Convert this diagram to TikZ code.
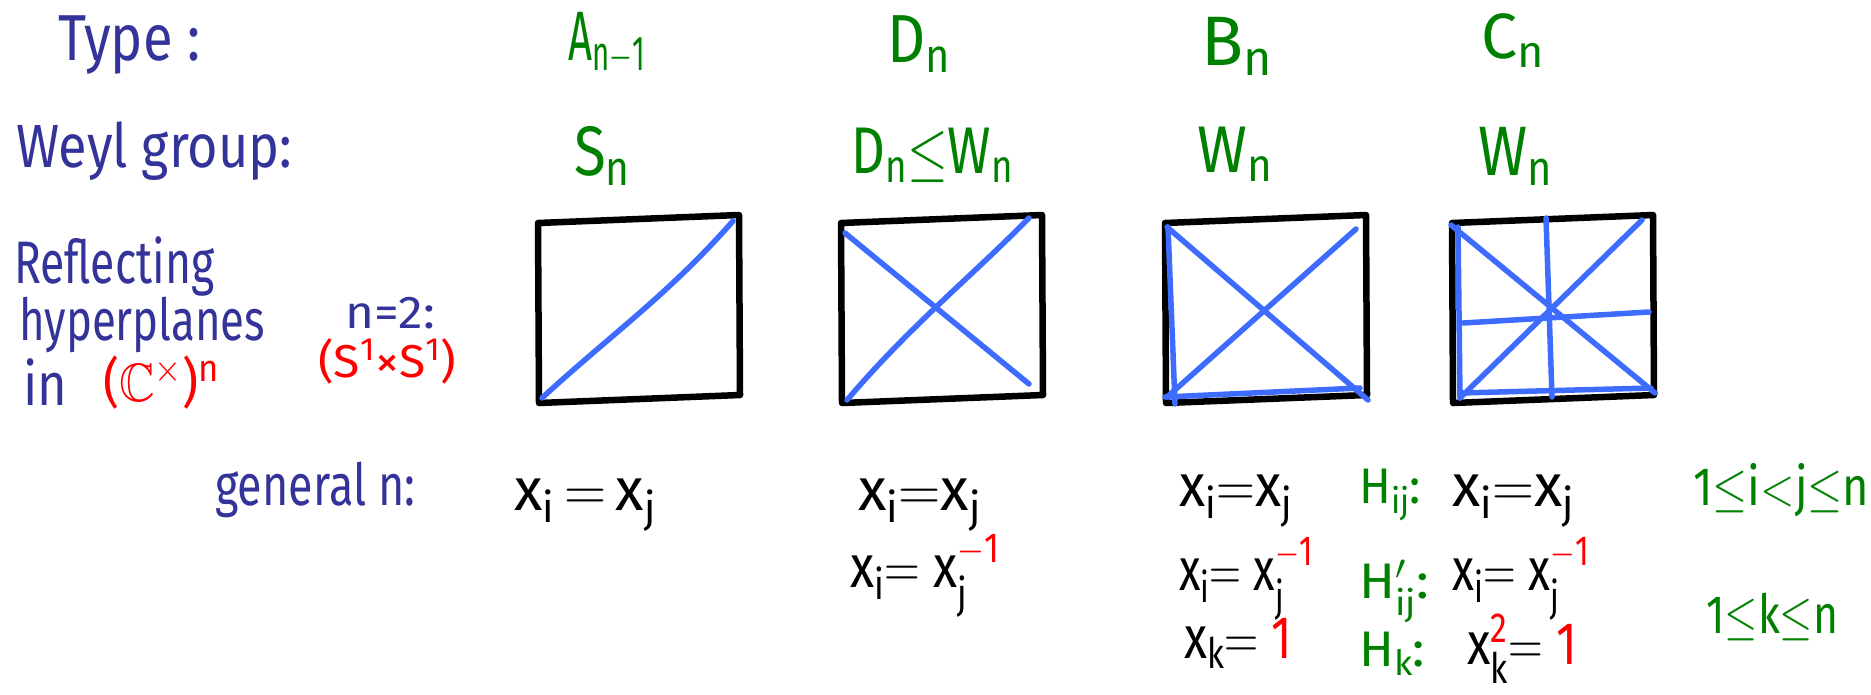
\RequirePackage{fix-cm}
\documentclass[tikz,border=0pt]{standalone}
\usepackage{amssymb}
\usepackage{fontspec}
\setmainfont{Fira Sans}
\definecolor{ink}{RGB}{51,51,153}
\definecolor{grn}{RGB}{0,128,0}
\definecolor{rd}{RGB}{255,0,0}
\definecolor{ln}{RGB}{61,108,255}
\newcommand\fw[2]{\resizebox{#1}{\height}{#2}}
\newcommand\rs[1]{\hbox{\color{rd}$\scriptstyle\mathrm{#1}$}}
\tikzset{
  txt/.style={anchor=base west, inner sep=0pt, font=\fontsize{#1}{#1}\selectfont},
  lbl/.style={txt=#1, text=ink},
  hdr/.style={txt=#1, text=grn},
  eqn/.style={txt=#1, text=black},
  boxline/.style={draw=black, line width=6.5pt, line join=round, line cap=round},
  hyper/.style={draw=ln, line width=5.5pt, line cap=round, line join=round},
}
\begin{document}
\begin{tikzpicture}[x=1pt,y=-1pt]
\useasboundingbox (0,0) rectangle (1871,694);

% left labels
\node[lbl=65] (type) at (58,60) {\fw{142pt}{Type :}};
\node[lbl=61] (weyl) at (16,167) {\fw{276pt}{Weyl group:}};
\node[lbl=60] (refl) at (14,283) {\fw{200pt}{Reflecting}};
\node[lbl=58] (hyp) at (19,340) {\fw{246pt}{hyperplanes}};
\node[lbl=60] (in) at (23,405) {\fw{44pt}{in}};
\node[lbl=54, text=rd] (cx) at (103,401) {\fw{116pt}{($\mathbb{C}^{\times}$)$^{\mathrm{n}}$}};
\node[lbl=46] (n2) at (345,328) {\fw{90pt}{n=2:}};
\node[lbl=46, text=rd] (s1) at (318,377) {\fw{138pt}{(S$^{\mathrm{1}}$×S$^{\mathrm{1}}$)}};

% headers
\node[hdr=70] (tA) at (568,60) {\fw{77pt}{A$_{\mathrm{n{-}1}}$}};
\node[hdr=68] (tD) at (887,62) {\fw{63pt}{D$_{\mathrm{n}}$}};
\node[hdr=70] (tB) at (1201,65) {\fw{71pt}{B$_{\mathrm{n}}$}};
\node[hdr=64] (tC) at (1481,58) {\fw{63pt}{C$_{\mathrm{n}}$}};
\node[hdr=70] (wA) at (574,175) {\fw{56pt}{S$_{\mathrm{n}}$}};
\node[hdr=66] (wD) at (851,173) {\fw{162pt}{D$_{\mathrm{n}}$${\le}$W$_{\mathrm{n}}$}};
\node[hdr=66] (wB) at (1197,172) {\fw{75pt}{W$_{\mathrm{n}}$}};
\node[hdr=70] (wC) at (1478,175) {\fw{74pt}{W$_{\mathrm{n}}$}};

% boxes
\begin{scope}[shift={(538,215)}]
  \draw[boxline] (0,8) -- (201,0) -- (202,180) -- (1,188) -- cycle;
  \draw[hyper] (4,183) .. controls (70,122) and (130,80) .. (195,6);
\end{scope}
\begin{scope}[shift={(841,215)}]
  \draw[boxline] (0,8) -- (201,0) -- (202,180) -- (1,188) -- cycle;
  \draw[hyper] (6,185) .. controls (70,110) and (130,62) .. (188,3);
  \draw[hyper] (4,18) -- (188,169);
\end{scope}
\begin{scope}[shift={(1165,215)}]
  \draw[boxline] (0,8) -- (201,0) -- (202,180) -- (1,188) -- cycle;
  \draw[hyper] (3,12) -- (10,189);
  \draw[hyper] (0,182) -- (195,173);
  \draw[hyper] (2,12) -- (203,185);
  \draw[hyper] (2,182) -- (191,14);
\end{scope}
\begin{scope}[shift={(1452,215)}]
  \draw[boxline] (0,8) -- (201,0) -- (202,180) -- (1,188) -- cycle;
  \draw[hyper] (6,12) -- (8,183);
  \draw[hyper] (8,178) -- (199,173);
  \draw[hyper] (-1,10) -- (203,178);
  \draw[hyper] (8,183) -- (190,5);
  \draw[hyper] (94,3) -- (100,182);
  \draw[hyper] (11,108) -- (197,97);
\end{scope}

% general n
\node[lbl=58] (gen) at (215,505) {\fw{200pt}{general n:}};
\node[eqn=60] (e1) at (514,510) {\fw{142pt}{$\mathrm{x_i\,{=}\,x_j}$}};
\node[eqn=60] (e2a) at (858,510) {\fw{123pt}{$\mathrm{x_i{=}x_j}$}};
\node[eqn=60] (e2b) at (850,587) {\fw{150pt}{$\mathrm{x_i{=}\;x_j^{\rs{-1}}}$}};
\node[eqn=60] (e3a) at (1179,506) {\fw{113pt}{$\mathrm{x_i{=}x_j}$}};
\node[eqn=60] (e3b) at (1179,590) {\fw{134pt}{$\mathrm{x_i{=}\;x_j^{\rs{-1}}}$}};
\node[eqn=60] (e3c) at (1184,658) {\fw{108pt}{$\mathrm{x_k{=}\;{\color{rd}1}}$}};
\node[hdr=50] (h1) at (1359,503) {\fw{62pt}{$\mathrm{H_{ij}}$:}};
\node[hdr=50] (h2) at (1359,598) {\fw{70pt}{$\mathrm{H}'_{\mathrm{ij}}$:}};
\node[hdr=50] (h3) at (1359,666) {\fw{66pt}{$\mathrm{H_{k}}$:}};
\node[eqn=60] (e4a) at (1452,506) {\fw{122pt}{$\mathrm{x_i{=}x_j}$}};
\node[eqn=60] (e4b) at (1452,590) {\fw{137pt}{$\mathrm{x_i{=}\;x_j^{\rs{-1}}}$}};
\node[eqn=60] (e4c) at (1467,664) {\fw{110pt}{$\mathrm{x_k^{\rs{2}}{=}\;{\color{rd}1}}$}};
\node[hdr=54] (r1) at (1693,505) {\fw{176pt}{$\mathrm{1{\le}i{<}j{\le}n}$}};
\node[hdr=54] (r2) at (1706,633) {\fw{132pt}{$\mathrm{1{\le}k{\le}n}$}};
\end{tikzpicture}
\end{document}
